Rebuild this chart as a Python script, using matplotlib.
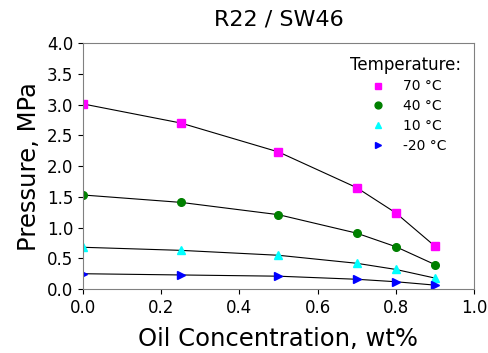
import matplotlib
matplotlib.use("Agg")
import matplotlib.pyplot as plt

oil = [0.0, 0.25, 0.5, 0.7, 0.8, 0.9]
p70 = [3.01, 2.70, 2.23, 1.65, 1.24, 0.70]
p40 = [1.53, 1.41, 1.21, 0.91, 0.69, 0.40]
p10 = [0.68, 0.63, 0.55, 0.42, 0.32, 0.18]
pm20 = [0.25, 0.23, 0.21, 0.16, 0.12, 0.065]
labels = ["70 °C", "40 °C", "10 °C", "-20 °C"]
series = [p70, p40, p10, pm20]
markers = ["s", "o", "^", ">"]
colors = ["magenta", "green", "cyan", "blue"]

fig = plt.figure(figsize=(4.89, 3.53), dpi=100)
ax = fig.add_axes([0.170, 0.181, 0.799, 0.697])
for ys, m, c, lab in zip(series, markers, colors, labels):
    ax.plot(oil, ys, color="black", lw=0.8, zorder=1)
    ax.plot(oil, ys, linestyle="none", marker=m, color=c, ms=5.5, label=lab, zorder=2)

ax.set_xlim(0, 1.0)
ax.set_ylim(0, 4.0)
ax.set_xticks([0.0, 0.2, 0.4, 0.6, 0.8, 1.0])
ax.set_yticks([0.0, 0.5, 1.0, 1.5, 2.0, 2.5, 3.0, 3.5, 4.0])
ax.tick_params(labelsize=12)
ax.set_xlabel("Oil Concentration, wt%", fontsize=17.5, labelpad=7)
ax.set_ylabel("Pressure, MPa", fontsize=17.5)
ax.set_title("R22 / SW46", fontsize=16, pad=13)
for s in ax.spines.values():
    s.set_color("#808080")
leg = ax.legend(title="Temperature:", frameon=False, loc="upper right", fontsize=10,
                title_fontsize=12, labelspacing=0.42, markerscale=0.9)
fig.savefig("out.png", dpi=100)
